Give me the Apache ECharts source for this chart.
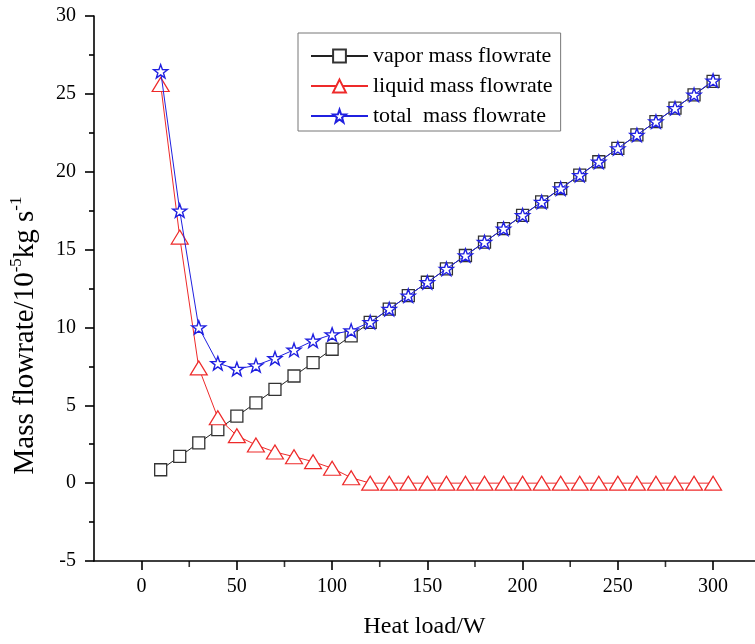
<!DOCTYPE html>
<html>
<head>
<meta charset="utf-8">
<script src="https://cdn.jsdelivr.net/npm/echarts@6/dist/echarts.min.js"></script>
<style>
html,body{margin:0;padding:0;background:#fff;}
#main{width:755px;height:644px;}
</style>
</head>
<body>
<div id="main"></div>
<script>
var heatLoad = [10,20,30,40,50,60,70,80,90,100,110,120,130,140,150,160,170,180,190,200,210,220,230,240,250,260,270,280,290,300];
var vaporFlow = [0.86,1.72,2.58,3.44,4.30,5.16,6.02,6.88,7.74,8.60,9.46,10.32,11.18,12.04,12.90,13.76,14.62,15.48,16.34,17.20,18.06,18.92,19.78,20.64,21.50,22.36,23.22,24.08,24.94,25.80];
var liquidFlow = [25.6,15.8,7.4,4.2,3.05,2.45,2.0,1.7,1.38,0.96,0.35,0,0,0,0,0,0,0,0,0,0,0,0,0,0,0,0,0,0,0];
var totalFlow = [26.45,17.5,10.0,7.7,7.33,7.56,8.02,8.56,9.14,9.55,9.8,10.34,11.18,12.04,12.90,13.76,14.62,15.48,16.34,17.20,18.06,18.92,19.78,20.64,21.50,22.36,23.22,24.08,24.94,25.85];
var xMajorTicks = [0,50,100,150,200,250,300];
var xMinorTicks = [25,75,125,175,225,275];
var seriesNames = ['vapor mass flowrate','liquid mass flowrate','total  mass flowrate'];
var Y_MIN = -5, Y_MAX = 30;

function pairs(xs, ys){ return xs.map(function(x,i){ return [x, ys[i]]; }); }

var starPath = 'path://M0,-10 L2.35,-3.24 L9.51,-3.09 L3.8,1.24 L5.88,8.09 L0,4 L-5.88,8.09 L-3.8,1.24 L-9.51,-3.09 L-2.35,-3.24Z';
var FONT = 'Liberation Serif';

var chart = echarts.init(document.getElementById('main'));
chart.setOption({
  backgroundColor: '#fff',
  animation: false,
  textStyle: {fontFamily: FONT, color: '#000'},
  grid: {left: 91, right: 0, top: 16, bottom: 82, containLabel: false},
  legend: {
    orient: 'vertical',
    left: 298, top: 33,
    padding: [12, 8, 4, 12],
    borderColor: '#777', borderWidth: 1,
    itemWidth: 57, itemHeight: 16, itemGap: 8,
    data: seriesNames,
    textStyle: {fontFamily: FONT, fontSize: 22, color: '#000', lineHeight: 22}
  },
  xAxis: {
    type: 'value', min: -25, max: 322,
    name: 'Heat load/W', nameLocation: 'middle', nameGap: 54,
    nameTextStyle: {fontFamily: FONT, fontSize: 24, color: '#000'},
    axisLine: {show: true, onZero: false, lineStyle: {color: '#000', width: 1.6}},
    axisTick: {show: true, inside: false, length: 9, customValues: xMajorTicks, lineStyle: {color: '#000', width: 1.6}},
    axisLabel: {customValues: xMajorTicks, margin: 16, fontFamily: FONT, fontSize: 20, color: '#000'},
    splitLine: {show: false}
  },
  yAxis: {
    type: 'value', min: Y_MIN, max: Y_MAX, interval: 5,
    name: 'Mass flowrate/10{sup|-5}kg s{sup|-1}', nameLocation: 'middle', nameGap: 52,
    nameTextStyle: {fontFamily: FONT, fontSize: 29, color: '#000', lineHeight: 34, padding: [0, 94, 0, 0],
      rich: {sup: {fontFamily: FONT, fontSize: 17, color: '#000', verticalAlign: 'top', lineHeight: 34, padding: [0,0,14,0]}}},
    axisLine: {show: true, onZero: false, lineStyle: {color: '#000', width: 1.6}},
    axisTick: {show: true, inside: false, length: 9, lineStyle: {color: '#000', width: 1.6}},
    minorTick: {show: true, splitNumber: 2, length: 5, lineStyle: {color: '#000', width: 1.6}},
    axisLabel: {margin: 18, fontFamily: FONT, fontSize: 20, color: '#000'},
    splitLine: {show: false}, minorSplitLine: {show: false}
  },
  series: [{
    name: seriesNames[0], type: 'line',
    data: pairs(heatLoad, vaporFlow),
    symbol: 'rect', symbolSize: 12,
    lineStyle: {color: '#222', width: 1},
    itemStyle: {color: '#fff', borderColor: '#333', borderWidth: 1.3},
    color: '#222', z: 2
  }, {
    name: seriesNames[1], type: 'line',
    data: pairs(heatLoad, liquidFlow),
    symbol: 'triangle', symbolSize: [17, 14],
    lineStyle: {color: '#ee2a2a', width: 1},
    itemStyle: {color: '#fff', borderColor: '#ee2a2a', borderWidth: 1.2},
    color: '#ee2a2a', z: 3
  }, {
    name: seriesNames[2], type: 'line',
    data: pairs(heatLoad, totalFlow),
    symbol: starPath, symbolSize: 14, symbolKeepAspect: true,
    lineStyle: {color: '#2020e0', width: 1},
    itemStyle: {color: '#fff', borderColor: '#2020e0', borderWidth: 1.4},
    color: '#2020e0', z: 4
  }, {
    // x-axis minor ticks, placed through the axis scale at the bottom edge
    name: 'minor ticks', type: 'scatter', silent: true, clip: false,
    data: xMinorTicks.map(function(v){ return [v, Y_MIN]; }),
    symbol: 'rect', symbolSize: [1.6, 6], symbolOffset: [0, 3],
    itemStyle: {color: '#000'}, z: 5, tooltip: {show: false}
  }]
});
</script>
</body>
</html>
